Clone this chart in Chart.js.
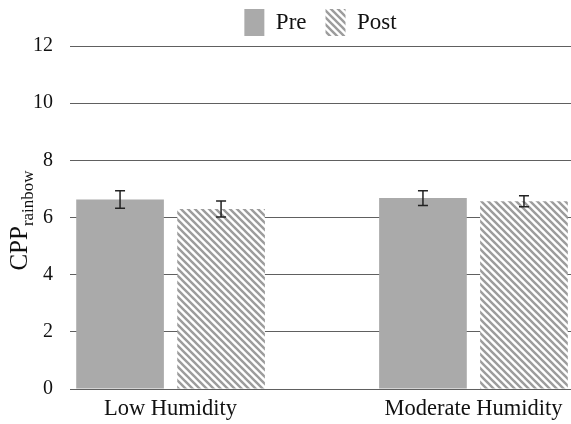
<!DOCTYPE html>
<html>
<head>
<meta charset="utf-8">
<script src="https://cdn.jsdelivr.net/npm/chart.js@4"></script>
<style>
  body { margin: 0; background: #fff; }
  #wrap { width: 571px; height: 424px; }
</style>
</head>
<body>
<div id="wrap"><canvas id="chartSpace"></canvas></div>
<script>
const categories = ['Low Humidity', 'Moderate Humidity'];
const seriesNames = ['Pre', 'Post'];
const preValues = [6.63, 6.68];
const postValues = [6.30, 6.57];
const preErrors = [0.31, 0.26];
const postErrors = [0.28, 0.19];
const yTicks = [0, 2, 4, 6, 8, 10, 12];

const serif = "'Liberation Serif', 'DejaVu Serif', serif";
const chartDiv = document.getElementById('chartSpace');

// diagonal hatch for the "Post" bars
function makeHatch() {
  const s = 7;
  const c = document.createElement('canvas');
  c.width = s; c.height = s;
  const g = c.getContext('2d');
  g.fillStyle = '#fff';
  g.fillRect(0, 0, s, s);
  g.strokeStyle = '#9c9c9c';
  g.lineWidth = 2.4;
  for (const k of [-s, 0, s]) {
    g.beginPath();
    g.moveTo(-1, -1 + k);
    g.lineTo(s + 1, s + 1 + k);
    g.stroke();
  }
  return g.createPattern(c, 'repeat');
}

const errorBars = {
  id: 'errorBars',
  afterDatasetsDraw(chart) {
    const ctx = chart.ctx;
    const y = chart.scales.y;
    const errs = [preErrors, postErrors];
    ctx.save();
    ctx.strokeStyle = '#222';
    ctx.lineWidth = 1.5;
    chart.data.datasets.forEach((ds, d) => {
      const meta = chart.getDatasetMeta(d);
      meta.data.forEach((bar, i) => {
        const v = ds.data[i].y;
        const top = y.getPixelForValue(v + errs[d][i]);
        const bot = y.getPixelForValue(v - errs[d][i]);
        ctx.beginPath();
        ctx.moveTo(bar.x, top); ctx.lineTo(bar.x, bot);
        ctx.moveTo(bar.x - 5, top); ctx.lineTo(bar.x + 5, top);
        ctx.moveTo(bar.x - 5, bot); ctx.lineTo(bar.x + 5, bot);
        ctx.stroke();
      });
    });
    ctx.restore();
  }
};

// y title with subscript
const yTitle = {
  id: 'yTitle',
  afterDraw(chart) {
    const ctx = chart.ctx;
    const area = chart.chartArea;
    ctx.save();
    ctx.fillStyle = '#111';
    ctx.textBaseline = 'alphabetic';
    ctx.font = '25px ' + serif;
    const w1 = ctx.measureText('CPP').width;
    ctx.font = '17px ' + serif;
    const w2 = ctx.measureText('rainbow').width;
    ctx.translate(27, (area.top + area.bottom) / 2 + 3);
    ctx.rotate(-Math.PI / 2);
    const x0 = -(w1 + w2) / 2;
    ctx.font = '25px ' + serif;
    ctx.fillText('CPP', x0, 0);
    ctx.font = '17px ' + serif;
    ctx.fillText('rainbow', x0 + w1, 6);
    ctx.restore();
  }
};

new Chart(chartDiv, {
  type: 'bar',
  data: {
    datasets: [{
      label: seriesNames[0],
      data: preValues.map((v, i) => ({ x: i, y: v })),
      backgroundColor: '#aaaaaa',
      borderWidth: 0
    }, {
      label: seriesNames[1],
      data: postValues.map((v, i) => ({ x: i, y: v })),
      backgroundColor: makeHatch(),
      borderWidth: 0
    }]
  },
  options: {
    responsive: true,
    maintainAspectRatio: false,
    animation: false,
    devicePixelRatio: 1,
    categoryPercentage: 0.667,
    barPercentage: 0.868,
    layout: { padding: { left: 0, top: -10, right: 0, bottom: 0 } },
    plugins: {
      tooltip: { enabled: false },
      legend: {
        position: 'top',
        fullSize: false,
        labels: {
          boxWidth: 20,
          boxHeight: 27,
          padding: 19,
          color: '#111',
          font: { family: serif, size: 23 }
        }
      }
    },
    scales: {
      x: {
        type: 'linear',
        offset: false,
        min: -0.332,
        max: 1.322,
        grid: { display: false, drawTicks: false, offset: false },
        border: { display: false },
        afterBuildTicks(scale) {
          scale.ticks = categories.map((c, i) => ({ value: i }));
        },
        afterFit(scale) {
          scale.height = 35;
          scale.paddingLeft = 0;
          scale.paddingRight = 0;
        },
        ticks: {
          autoSkip: false,
          maxRotation: 0,
          padding: 7,
          color: '#111',
          font: { family: serif, size: 22.5 },
          callback: (v) => categories[v]
        }
      },
      y: {
        min: yTicks[0],
        max: yTicks[yTicks.length - 1],
        grid: { color: '#606060', lineWidth: 1, drawTicks: false },
        border: { display: false },
        afterBuildTicks(scale) {
          scale.ticks = yTicks.map(v => ({ value: v }));
        },
        afterFit(scale) { scale.width = 70; },
        ticks: {
          padding: 17,
          color: '#111',
          font: { family: serif, size: 20 }
        }
      }
    }
  },
  plugins: [errorBars, yTitle]
});
</script>
</body>
</html>
